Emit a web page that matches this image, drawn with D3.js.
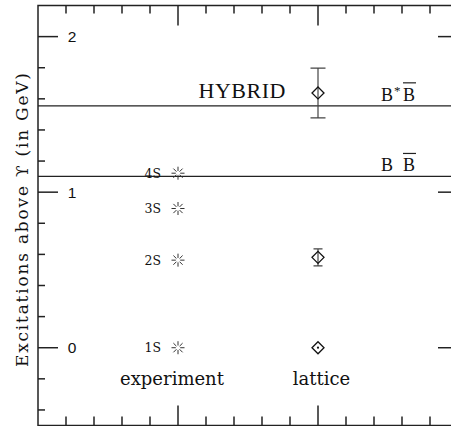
<!DOCTYPE html>
<html>
<head>
<meta charset="utf-8">
<script src="https://cdn.jsdelivr.net/npm/d3@7"></script>
<style>
  body { margin: 0; background: #fff; }
  svg { display: block; }
</style>
</head>
<body>
<svg id="chart" width="451" height="426"></svg>
<script>
// columns: 1 = experiment, 2 = lattice
const expLevels = ['1S', '2S', '3S', '4S'];
const expValues = [0, 0.563, 0.895, 1.122];
const latValues = [0, 0.581, 1.638];
const latErrors = [0, 0.055, 0.16];
const thresholds = [1.555, 1.101];
const thresholdLabels = ['B*B', 'B B'];
const yTicks = [0, 1, 2];
const columnLabels = ['experiment', 'lattice'];

const svg = d3.select('#chart');
const ink = '#222';

const x = d3.scaleLinear().domain([0, 3]).range([38, 458]);
const y = d3.scaleLinear().domain([-0.5, 2.2]).range([425.5, 5.5]);

// frame
const frame = svg.append('g').attr('stroke', ink).attr('stroke-width', 1.5).attr('fill', 'none');
frame.append('path')
  .attr('d', `M${x(3)},${y(2.2)}H${x(0)}V${y(-0.5)}H${x(3)}`);

// ticks
const yMinor = d3.range(-0.4, 2.2, 0.2).map(v => +v.toFixed(1));
const xMinor = d3.range(0.2, 3, 0.2).map(v => +v.toFixed(1));
const isMajor = v => Math.abs(v - Math.round(v)) < 1e-6;

frame.selectAll('.yl').data(yMinor).join('line')
  .attr('x1', x(0)).attr('x2', v => x(0) + (isMajor(v) ? 20 : 7))
  .attr('y1', v => y(v)).attr('y2', v => y(v));
frame.selectAll('.yr').data(yTicks).join('line')
  .attr('x1', x(3) - 20).attr('x2', x(3))
  .attr('y1', v => y(v)).attr('y2', v => y(v));
frame.selectAll('.xt').data(xMinor).join('line')
  .attr('x1', v => x(v)).attr('x2', v => x(v))
  .attr('y1', y(2.2)).attr('y2', v => y(2.2) + (isMajor(v) ? 20 : 8));
frame.selectAll('.xb').data(xMinor).join('line')
  .attr('x1', v => x(v)).attr('x2', v => x(v))
  .attr('y1', y(-0.5)).attr('y2', v => y(-0.5) - (isMajor(v) ? 20 : 9));

svg.append('g')
  .attr('font-family', 'Liberation Sans, sans-serif')
  .attr('font-size', 15.5)
  .attr('fill', '#111')
  .selectAll('text').data(yTicks).join('text')
    .attr('x', 72).attr('y', v => y(v)).attr('dy', '0.36em')
    .attr('text-anchor', 'middle')
    .text(d => d);

// axis title
svg.append('text')
  .attr('transform', `translate(28,${220}) rotate(-90)`)
  .attr('font-family', 'DejaVu Serif, serif')
  .attr('font-size', 17)
  .attr('fill', '#111')
  .attr('text-anchor', 'middle')
  .attr('textLength', 294).attr('lengthAdjust', 'spacing')
  .text('Excitations above \u03D2 (in GeV)');

// threshold lines
svg.append('g').attr('stroke', ink).attr('stroke-width', 1.3)
  .selectAll('line').data(thresholds).join('line')
    .attr('x1', x(0)).attr('x2', x(3))
    .attr('y1', v => y(v)).attr('y2', v => y(v));

const thr = svg.append('g')
  .attr('font-family', 'Liberation Serif, serif')
  .attr('font-size', 18)
  .attr('fill', '#111')
  .selectAll('g').data(thresholds).join('g')
    .attr('transform', v => `translate(381,${y(v) - 5})`);
thr.append('text').attr('x', 0).text('B');
thr.filter((d, i) => thresholdLabels[i].includes('*'))
  .append('text').attr('x', 13).attr('y', -6).attr('font-size', 13).text('*');
thr.append('text').attr('x', 22).text('B');
thr.append('line')
  .attr('x1', 22).attr('x2', 35).attr('y1', -18).attr('y2', -18)
  .attr('stroke', ink).attr('stroke-width', 1.2);

// experiment markers
const star = d3.range(8).map(i => {
  const a = i * Math.PI / 4;
  return `M${2.2 * Math.cos(a)},${2.2 * Math.sin(a)}L${6.5 * Math.cos(a)},${6.5 * Math.sin(a)}`;
}).join('');
const exp = svg.append('g')
  .selectAll('g').data(expValues).join('g')
    .attr('transform', v => `translate(${x(1)},${y(v)})`);
exp.append('path').attr('d', star).attr('stroke', '#333').attr('stroke-width', 1).attr('fill', 'none');
exp.append('text')
  .attr('x', -17).attr('dy', '0.36em')
  .attr('text-anchor', 'end')
  .attr('font-family', 'DejaVu Serif, serif')
  .attr('font-size', 12.5)
  .attr('fill', '#111')
  .text((d, i) => expLevels[i]);

// lattice points
const lat = svg.append('g').attr('stroke', ink).attr('fill', 'none')
  .selectAll('g').data(latValues).join('g')
    .attr('transform', v => `translate(${x(2)},${y(v)})`);
lat.filter((d, i) => latErrors[i] > 0).each(function (d) {
  const e = latErrors[latValues.indexOf(d)];
  const cap = e > 0.1 ? 7.5 : 4.5;
  const g = d3.select(this).attr('stroke-width', 1.2).attr('stroke', '#444');
  const top = y(d + e) - y(d), bot = y(d - e) - y(d);
  g.append('path').attr('d', `M0,${top}V${bot}M${-cap},${top}H${cap}M${-cap},${bot}H${cap}`);
});
lat.append('path').attr('d', 'M0,-6L6,0L0,6L-6,0Z').attr('stroke-width', 1.3).attr('stroke', '#111');
lat.filter((d, i) => latErrors[i] === 0)
  .append('circle').attr('r', 1.1).attr('fill', '#111').attr('stroke', 'none');

// text labels
const serif = svg.append('g').attr('font-family', 'DejaVu Serif, serif').attr('fill', '#111');
serif.selectAll('text').data(columnLabels).join('text')
  .attr('x', (d, i) => x(i + 1) - 6 + i * 9.5)
  .attr('y', y(-0.2)).attr('dy', '0.35em')
  .attr('text-anchor', 'middle')
  .attr('font-size', 18)
  .text(d => d);

svg.append('text')
  .attr('x', 242).attr('y', y(latValues[2]) + 5)
  .attr('text-anchor', 'middle')
  .attr('font-family', 'Liberation Serif, serif')
  .attr('font-size', 22)
  .attr('fill', '#111')
  .attr('textLength', 87)
  .text('HYBRID');
</script>
</body>
</html>
